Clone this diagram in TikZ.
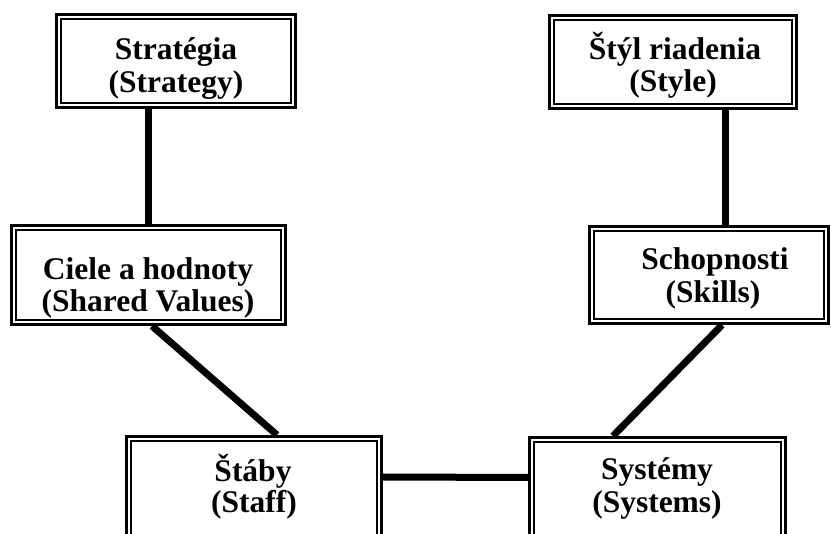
\documentclass[tikz,border=0pt]{standalone}
\usepackage{fontspec}
\setmainfont{Liberation Serif}
\begin{document}
\begin{tikzpicture}[x=1pt,y=-1pt,
  box/.style={draw, line width=3pt, rectangle, inner sep=0pt, fill=white,
    path picture={\draw[line width=1.5pt] ([shift={(4.5pt,4.5pt)}]path picture bounding box.south west) rectangle ([shift={(-4.5pt,-4.5pt)}]path picture bounding box.north east);}},
  lbl/.style={anchor=base, font=\fontsize{31.5}{32.5}\selectfont\bfseries, inner sep=0pt},
  link/.style={line width=7pt}]
\useasboundingbox (0,0) rectangle (831,534);
\clip (0,0) rectangle (831,534);
\fill[white] (0,0) rectangle (831,534);
% boxes
\node[box, minimum width=239pt, minimum height=93pt] (A) at (176,61) {};
\node[box, minimum width=247pt, minimum height=93pt] (B) at (673,62) {};
\node[box, minimum width=274pt, minimum height=99pt] (C) at (148.5,275) {};
\node[box, minimum width=239pt, minimum height=97pt] (D) at (709,275) {};
\node[box, minimum width=255pt, minimum height=122pt] (E) at (254,497.5) {};
\node[box, minimum width=256pt, minimum height=121pt] (F) at (657.5,498) {};
% connectors
\draw[link] (C.north) -- (C.north |- A.south);
\draw[link] ([xshift=16pt]D.north) -- ([xshift=16pt]D.north |- B.south);
\draw[link] ([xshift=3.5pt]C.south) -- ([xshift=23pt]E.north);
\draw[link] ([xshift=13pt]D.south) -- ([xshift=-44.5pt]F.north);
\draw[link] ([yshift=20.5pt]E.east) -- ([yshift=20.5pt]F.west);
% texts
\begin{scope}
\clip (A.north west) rectangle ([yshift=10pt]A.south east);
\node[lbl] (A1) at (176,60) {Stratégia};
\node[lbl] (A2) at (176,93) {(Strategy)};
\end{scope}
\begin{scope}
\clip (B.north west) rectangle ([yshift=11pt]B.south east);
\node[lbl] (B1) at (675,60) {Štýl riadenia};
\node[lbl] (B2) at (673,92) {(Style)};
\end{scope}
\node[lbl] (C1) at (148,280) {Ciele a hodnoty};
\node[lbl] (C2) at (148,312) {(Shared Values)};
\node[lbl] (D1) at (715,270) {Schopnosti};
\node[lbl] (D2) at (713,303) {(Skills)};
\node[lbl] (E1) at (253,482) {Štáby};
\node[lbl] (E2) at (254,513) {(Staff)};
\node[lbl] (F1) at (657,480) {Systémy};
\node[lbl] (F2) at (657,513) {(Systems)};
\end{tikzpicture}
\end{document}
